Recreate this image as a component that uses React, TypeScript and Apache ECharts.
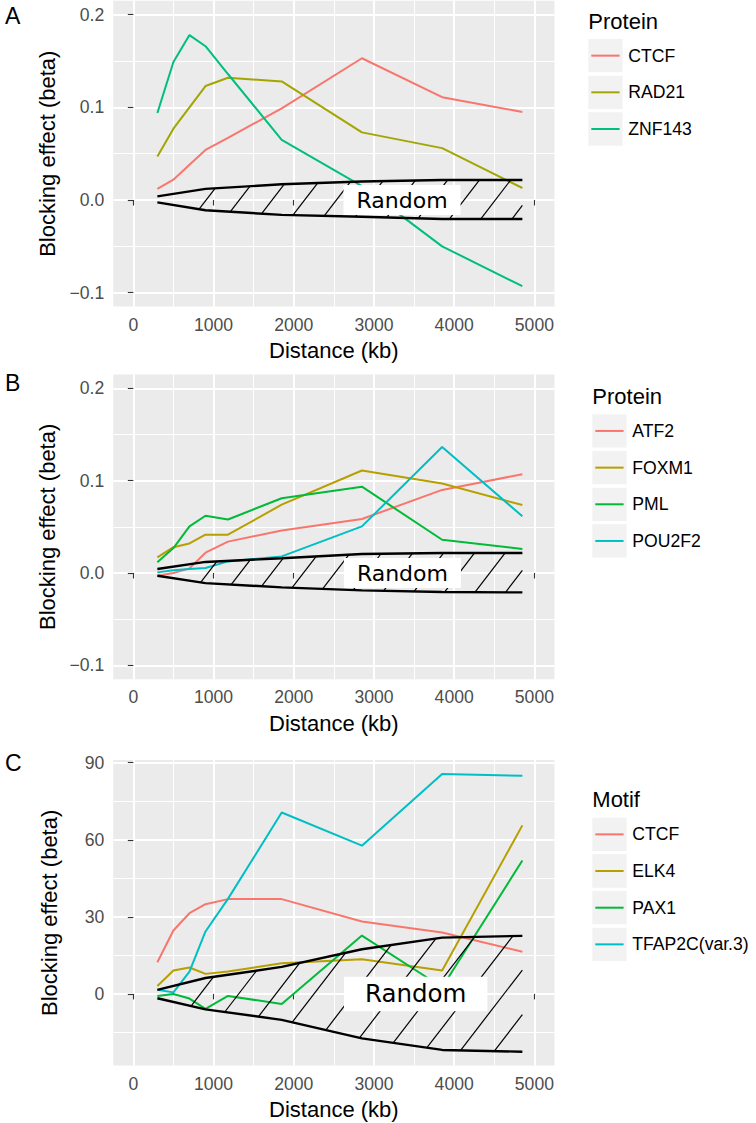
import React, { useEffect, useRef } from 'react';
import * as echarts from 'echarts';

// ---------- data ----------
const distance = [300, 500, 700, 900, 1180, 1850, 2850, 3850, 4850];
const randomDistance = [300, 900, 1850, 2850, 3850, 4850];

// Panel A (Protein)
const namesA = ['CTCF', 'RAD21', 'ZNF143'];
const colorsA = ['#F8766D', '#A3A500', '#00BF7D'];
const ctcfA = [0.012, 0.022, 0.038, 0.054, 0.067, 0.099, 0.153, 0.111, 0.095];
const rad21A = [0.047, 0.077, 0.1, 0.123, 0.132, 0.128, 0.073, 0.056, 0.013];
const znf143A = [0.094, 0.149, 0.178, 0.166, 0.136, 0.065, 0.015, -0.05, -0.093];
const randUpperA = [0.004, 0.012, 0.017, 0.02, 0.0216, 0.0216];
const randLowerA = [-0.0025, -0.011, -0.016, -0.018, -0.0205, -0.0205];

// Panel B (Protein)
const namesB = ['ATF2', 'FOXM1', 'PML', 'POU2F2'];
const colorsB = ['#F8766D', '#B79F00', '#00BA38', '#00BFC4'];
const atf2B = [-0.003, 0.0, 0.005, 0.022, 0.034, 0.046, 0.0585, 0.09, 0.107];
const foxm1B = [0.017, 0.028, 0.032, 0.0415, 0.0415, 0.074, 0.111, 0.097, 0.0736];
const pmlB = [0.0116, 0.027, 0.0505, 0.062, 0.058, 0.081, 0.0935, 0.036, 0.026];
const pou2f2B = [0.0007, 0.003, 0.0043, 0.0054, 0.0126, 0.018, 0.0505, 0.1365, 0.0614];
const randUpperB = [0.0043, 0.012, 0.016, 0.0206, 0.0217, 0.0217];
const randLowerB = [-0.003, -0.011, -0.0155, -0.0188, -0.0206, -0.021];

// Panel C (Motif)
const namesC = ['CTCF', 'ELK4', 'PAX1', 'TFAP2C(var.3)'];
const colorsC = ['#F8766D', '#B79F00', '#00BA38', '#00BFC4'];
const ctcfC = [12.3, 24.7, 31.4, 34.9, 36.9, 36.9, 28.2, 23.9, 16.4];
const elk4C = [3.1, 9.1, 10.3, 7.8, 8.7, 11.9, 13.5, 9.1, 65.6];
const pax1C = [-0.8, 0.0, -1.8, -5.8, -0.8, -3.9, 22.7, 2.6, 51.9];
const tfap2cC = [1.6, 0.6, 8.7, 24.3, 37.0, 70.6, 57.7, 85.6, 84.9];
const randUpperC = [1.6, 6.2, 10.5, 17.4, 21.9, 22.6];
const randLowerC = [-1.7, -6.0, -10.1, -17.3, -21.8, -22.5];

// label positions of "Random" (data coords)
const randomLabelA = [3350, 0];
const randomLabelB = [3355, 0];
const randomLabelC = [3520, 0];

// ticks
const xMajorTicks = [0, 1000, 2000, 3000, 4000, 5000];
const xMinorTicks = [500, 1500, 2500, 3500, 4500];
const yMajorTicksAB = [-0.1, 0, 0.1, 0.2];
const yMinorTicksAB = [-0.05, 0.05, 0.15];
const yMajorTicksC = [0, 30, 60, 90];
const yMinorTicksC = [-15, 15, 45, 75];

// ---------- style/layout ----------
const FONT = '"Liberation Sans", Arial, Helvetica, sans-serif';
const GRID_LEFT = 113.25;
const GRID_WIDTH = 441.2;

function interp(xs: number[], ys: number[], x: number) {
  if (x <= xs[0]) return ys[0];
  for (let i = 1; i < xs.length; i++) {
    if (x <= xs[i]) {
      const f = (x - xs[i - 1]) / (xs[i] - xs[i - 1]);
      return ys[i - 1] + f * (ys[i] - ys[i - 1]);
    }
  }
  return ys[ys.length - 1];
}

const panels = [
  {
    letter: 'A', letterY: 15.5, top: 0.8, height: 305.8, yMin: -0.115, yMax: 0.215,
    yMajor: yMajorTicksAB, yMinor: yMinorTicksAB, dec: 1,
    names: namesA, colors: colorsA, values: [ctcfA, rad21A, znf143A],
    upper: randUpperA, lower: randLowerA, label: randomLabelA,
    labelFont: 22, labelPad: [4, 13], hatchStart: 820, hatchStep: 390,
    legendTitle: 'Protein', legendX: 588.3, legendTitleY: 21, legendBoxTop: 39,
  },
  {
    letter: 'B', letterY: 382.5, top: 374.5, height: 304.7, yMin: -0.115, yMax: 0.215,
    yMajor: yMajorTicksAB, yMinor: yMinorTicksAB, dec: 1,
    names: namesB, colors: colorsB, values: [atf2B, foxm1B, pmlB, pou2f2B],
    upper: randUpperB, lower: randLowerB, label: randomLabelB,
    labelFont: 22, labelPad: [4, 13], hatchStart: 840, hatchStep: 380,
    legendTitle: 'Protein', legendX: 592.3, legendTitleY: 396.5, legendBoxTop: 414.3,
  },
  {
    letter: 'C', letterY: 763, top: 760.1, height: 305.5, yMin: -27.9, yMax: 91,
    yMajor: yMajorTicksC, yMinor: yMinorTicksC, dec: 0,
    names: namesC, colors: colorsC, values: [ctcfC, elk4C, pax1C, tfap2cC],
    upper: randUpperC, lower: randLowerC, label: randomLabelC,
    labelFont: 24.5, labelPad: [5, 21], hatchStart: 720, hatchStep: 420,
    legendTitle: 'Motif', legendX: 592.3, legendTitleY: 799.7, legendBoxTop: 817.7,
  },
];

function fmtY(v: number, dec: number) {
  const s = Math.abs(v).toFixed(dec);
  return v < -1e-9 ? '\u2212' + s : s;
}

function buildOption() {
  const grid: any[] = [];
  const xAxis: any[] = [];
  const yAxis: any[] = [];
  const series: any[] = [];
  const graphic: any[] = [];

  panels.forEach((p, i) => {
    grid.push({
      left: GRID_LEFT, top: p.top, width: GRID_WIDTH, height: p.height,
      show: true, backgroundColor: '#EBEBEB', borderWidth: 0,
      containLabel: false, outerBoundsMode: 'none',
    });
    // major x
    xAxis.push({
      type: 'value', gridIndex: i, min: -250, max: 5250,
      axisLine: { show: false },
      axisTick: { show: true, length: 5.5, customValues: xMajorTicks, lineStyle: { color: '#333333', width: 1.1 } },
      axisLabel: {
        customValues: xMajorTicks, fontSize: 17.6, color: '#4D4D4D', fontFamily: FONT, margin: 9,
        formatter: (v: number) => String(Math.round(v)),
      },
      splitLine: { show: true, lineStyle: { color: '#FFFFFF', width: 2 } },
      name: 'Distance (kb)', nameLocation: 'middle', nameGap: 33,
      nameTextStyle: { fontSize: 22, color: '#000', fontFamily: FONT },
    });
    // minor x
    xAxis.push({
      type: 'value', gridIndex: i, min: -250, max: 5250, position: 'bottom',
      axisLine: { show: false },
      axisTick: { show: false, customValues: xMinorTicks },
      axisLabel: { show: false, customValues: xMinorTicks },
      splitLine: { show: true, lineStyle: { color: '#FFFFFF', width: 1 } },
    });
    // major y
    yAxis.push({
      type: 'value', gridIndex: i, min: p.yMin, max: p.yMax,
      axisLine: { show: false },
      axisTick: { show: true, length: 5.5, customValues: p.yMajor, lineStyle: { color: '#333333', width: 1.1 } },
      axisLabel: {
        customValues: p.yMajor, fontSize: 17.6, color: '#4D4D4D', fontFamily: FONT, margin: 9,
        formatter: (v: number) => fmtY(v, p.dec),
      },
      splitLine: { show: true, lineStyle: { color: '#FFFFFF', width: 2 } },
      name: 'Blocking effect (beta)', nameLocation: 'middle', nameRotate: 90, nameGap: 53,
      nameTextStyle: { fontSize: 22, color: '#000', fontFamily: FONT },
    });
    // minor y
    yAxis.push({
      type: 'value', gridIndex: i, min: p.yMin, max: p.yMax, position: 'left',
      axisLine: { show: false },
      axisTick: { show: false, customValues: p.yMinor },
      axisLabel: { show: false, customValues: p.yMinor },
      splitLine: { show: true, lineStyle: { color: '#FFFFFF', width: 1 } },
    });

    const xi = 2 * i;
    const yi = 2 * i;

    // colored lines
    p.names.forEach((name, k) => {
      series.push({
        type: 'line', name, xAxisIndex: xi, yAxisIndex: yi, z: 2,
        data: distance.map((d, j) => [d, p.values[k][j]]),
        showSymbol: false, symbol: 'none',
        lineStyle: { color: p.colors[k], width: 2 },
        itemStyle: { color: p.colors[k] },
        silent: true,
      });
    });

    // hatch
    const upper = p.upper;
    const lower = p.lower;
    const slope = 1.3;
    series.push({
      type: 'custom', xAxisIndex: xi, yAxisIndex: yi, z: 3, silent: true,
      data: [[randomDistance[0], 0]],
      renderItem: (_params: any, api: any) => {
        const up = randomDistance.map((x, k) => api.coord([x, upper[k]]));
        const lastX = randomDistance[randomDistance.length - 1];
        const xEdge = up[up.length - 1][0];
        const children: any[] = [];
        for (let xa = p.hatchStart; xa < lastX; xa += p.hatchStep) {
          const p0 = api.coord([xa, interp(randomDistance, lower, xa)]);
          let tBest = xEdge - p0[0];
          const dx = 1, dy = -slope;
          for (let s = 0; s < up.length - 1; s++) {
            const A = up[s], B = up[s + 1];
            const ex = B[0] - A[0], ey = B[1] - A[1];
            const den = dx * ey - dy * ex;
            if (Math.abs(den) < 1e-9) continue;
            const ax = A[0] - p0[0], ay = A[1] - p0[1];
            const t = (ax * ey - ay * ex) / den;
            const u = (ax * dy - ay * dx) / den;
            if (u >= 0 && u <= 1 && t > 0 && t < tBest) tBest = t;
          }
          if (tBest <= 0) continue;
          children.push({
            type: 'line',
            shape: { x1: p0[0], y1: p0[1], x2: p0[0] + tBest, y2: p0[1] - slope * tBest },
            style: { stroke: '#000', lineWidth: 1.2 },
          });
        }
        return { type: 'group', children };
      },
    });

    // random boundaries
    [upper, lower].forEach((arr) => {
      series.push({
        type: 'line', xAxisIndex: xi, yAxisIndex: yi, z: 4, silent: true,
        data: randomDistance.map((d, j) => [d, arr[j]]),
        showSymbol: false, symbol: 'none',
        lineStyle: { color: '#000', width: 2.4 },
      });
    });

    // Random label
    series.push({
      type: 'scatter', xAxisIndex: xi, yAxisIndex: yi, z: 10, silent: true,
      data: [p.label], symbolSize: 1, itemStyle: { color: '#FFFFFF', opacity: 1 },
      label: {
        show: true, position: 'inside', formatter: 'Random',
        backgroundColor: '#FFFFFF', padding: p.labelPad, opacity: 1,
        fontFamily: '"DejaVu Sans", sans-serif', fontSize: p.labelFont, color: '#000000',
        lineHeight: p.labelFont,
      },
    });

    // panel letter
    graphic.push({
      type: 'text', x: 5, y: p.letterY,
      style: { text: p.letter, fontSize: 23, fontFamily: FONT, fill: '#000', verticalAlign: 'middle', align: 'left' },
    });

    // legend
    graphic.push({
      type: 'text', x: p.legendX, y: p.legendTitleY,
      style: { text: p.legendTitle, fontSize: 22, fontFamily: FONT, fill: '#000', verticalAlign: 'middle', align: 'left' },
    });
    const boxW = 34.3, boxH = 33.3, spacing = 36.67;
    p.names.forEach((name, k) => {
      const top = p.legendBoxTop + k * spacing;
      const cy = top + boxH / 2;
      graphic.push({
        type: 'rect', shape: { x: p.legendX, y: top, width: boxW, height: boxH },
        style: { fill: '#F2F2F2' },
      });
      graphic.push({
        type: 'line', shape: { x1: p.legendX + 3, y1: cy, x2: p.legendX + boxW - 3, y2: cy },
        style: { stroke: p.colors[k], lineWidth: 2 },
      });
      graphic.push({
        type: 'text', x: p.legendX + 40, y: cy,
        style: { text: name, fontSize: 17.6, fontFamily: FONT, fill: '#000', verticalAlign: 'middle', align: 'left' },
      });
    });
  });

  return {
    animation: false,
    backgroundColor: '#FFFFFF',
    tooltip: { show: false },
    grid, xAxis, yAxis, series, graphic,
  };
}

export default function App() {
  const ref = useRef<HTMLDivElement>(null);
  useEffect(() => {
    document.body.style.margin = '0';
    const chart = echarts.init(ref.current as HTMLDivElement, null, { renderer: 'svg' });
    chart.setOption(buildOption() as any);
    return () => chart.dispose();
  }, []);
  return <div ref={ref} style={{ width: 756, height: 1123 }} />;
}
